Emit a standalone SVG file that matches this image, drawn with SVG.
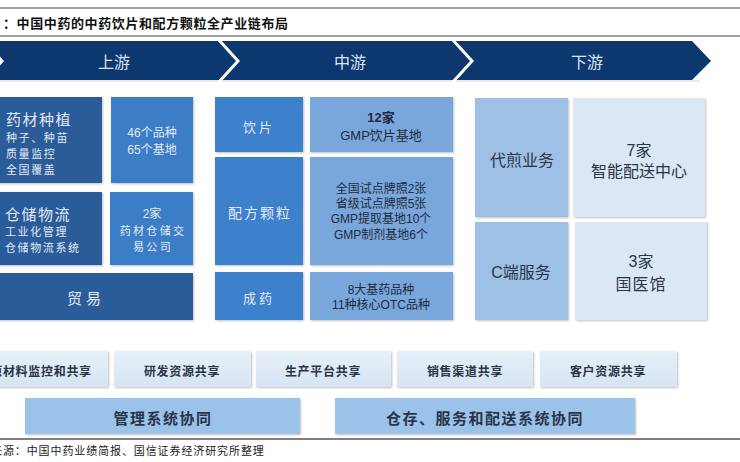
<svg xmlns="http://www.w3.org/2000/svg" width="740" height="462" viewBox="0 0 740 462">
<defs>
<filter id="sh" x="-5%" y="-5%" width="112%" height="115%">
<feDropShadow dx="1" dy="1" stdDeviation="0.8" flood-color="#000" flood-opacity="0.25"/>
</filter>
<linearGradient id="gl" x1="0" y1="0" x2="0" y2="1">
<stop offset="0" stop-color="#e6f0f9"/>
<stop offset="1" stop-color="#d6e4f3"/>
</linearGradient>
</defs>
<style>
text{font-family:"Liberation Sans","Noto Sans CJK SC",sans-serif;dominant-baseline:central;text-anchor:middle}
.cjk{font-family:"Noto Sans CJK SC",sans-serif}
.lt{fill:#e3eaf4}
.dk{fill:#1f2a3c}
.dk2{fill:#2a3448}
.b1{fill:#2b5b99}
.b2{fill:#3a7dc6}
.b3{fill:#3e80cc}
.b4{fill:#79a7dc}
.b5{fill:#9dc0e4}
.b6{fill:#dae7f4}
.b7{fill:url(#gl)}
.b8{fill:#9bc2e8}
.box{filter:url(#sh)}
.hd{font-size:16px;fill:#dde5f0}
.s11{font-size:11px;letter-spacing:1.6px;text-anchor:start}
.h15{font-size:15px;letter-spacing:1.5px;text-anchor:start}
.c11{font-size:11px;letter-spacing:2.3px}
.s12{font-size:12px}
.s13{font-size:13px}
.s16{font-size:16px}
</style>
<rect width="740" height="462" fill="#ffffff"/>
<!-- title rules -->
<line x1="0" y1="8" x2="740" y2="8" stroke="#444" stroke-width="1.2"/>
<line x1="0" y1="36" x2="740" y2="36" stroke="#444" stroke-width="1.2"/>
<text x="3" y="22" class="cjk" style="text-anchor:start;font-size:13px;font-weight:bold;letter-spacing:0.6px;fill:#111">：中国中药的中药饮片和配方颗粒全产业链布局</text>

<!-- banner -->
<g id="banner">
<polygon points="0,41 692,41 711,61 692,80 0,80" fill="#0c376f"/>
<line x1="0" y1="81" x2="700" y2="81" stroke="#c9d3e0" stroke-width="1"/>
<polyline points="-18,39 2,61 -18,83" fill="none" stroke="#ffffff" stroke-width="3"/>
<polyline points="218,39 238,61 218,83" fill="none" stroke="#ffffff" stroke-width="3"/>
<polyline points="452,39 472,61 452,83" fill="none" stroke="#ffffff" stroke-width="3"/>
<text x="114" y="61" class="hd cjk">上游</text>
<text x="350" y="61" class="hd cjk">中游</text>
<text x="587" y="61" class="hd cjk">下游</text>
</g>

<!-- upstream -->
<g id="n-zhongzhi">
<rect class="b1 box" x="-2" y="97" width="104" height="86"/>
<text x="6" y="118" class="lt cjk h15">药材种植</text>
<text x="6" y="137" class="lt cjk s11">种子、种苗</text>
<text x="6" y="153" class="lt cjk s11">质量监控</text>
<text x="6" y="169" class="lt cjk s11">全国覆盖</text>
</g>
<g id="n-46">
<rect class="b2 box" x="111" y="97" width="82" height="86"/>
<text x="152" y="133" class="lt s12">46个品种</text>
<text x="152" y="150" class="lt s12">65个基地</text>
</g>
<g id="n-cangchu">
<rect class="b1 box" x="-2" y="192" width="104" height="73"/>
<text x="5" y="213" class="lt cjk h15">仓储物流</text>
<text x="5" y="231" class="lt cjk s11">工业化管理</text>
<text x="5" y="247" class="lt cjk s11">仓储物流系统</text>
</g>
<g id="n-2jia">
<rect class="b2 box" x="110" y="192" width="83" height="73"/>
<text x="152" y="214" class="lt s12">2家</text>
<text x="153" y="230" class="lt cjk c11">药材仓储交</text>
<text x="153" y="246" class="lt cjk c11">易公司</text>
</g>
<g id="n-maoyi">
<rect class="b1 box" x="-2" y="273" width="195" height="47"/>
<text x="86" y="297" class="lt cjk" style="font-size:15px;letter-spacing:4px">贸易</text>
</g>

<!-- midstream -->
<g id="n-yinpian">
<rect class="b3 box" x="215" y="97" width="88" height="55"/>
<text x="259" y="126" class="lt cjk s13" style="letter-spacing:3px">饮片</text>
</g>
<g id="n-12jia">
<rect class="b4 box" x="310" y="97" width="143" height="55"/>
<text x="381" y="117" class="dk s13" style="font-weight:bold">12家</text>
<text x="381" y="135" class="dk s13">GMP饮片基地</text>
</g>
<g id="n-peifang">
<rect class="b3 box" x="215" y="157" width="88" height="108"/>
<text x="260" y="212" class="lt cjk" style="font-size:14px;letter-spacing:2px">配方颗粒</text>
</g>
<g id="n-paizhao">
<rect class="b4 box" x="310" y="157" width="143" height="108"/>
<text x="381" y="189" class="dk s12">全国试点牌照2张</text>
<text x="381" y="204" class="dk s12">省级试点牌照5张</text>
<text x="381" y="219" class="dk s12">GMP提取基地10个</text>
<text x="381" y="235" class="dk s12">GMP制剂基地6个</text>
</g>
<g id="n-chengyao">
<rect class="b3 box" x="215" y="272" width="88" height="48"/>
<text x="259" y="297" class="lt cjk s13" style="letter-spacing:3px">成药</text>
</g>
<g id="n-jiyao">
<rect class="b4 box" x="310" y="272" width="143" height="48"/>
<text x="381" y="290" class="dk s12">8大基药品种</text>
<text x="381" y="305" class="dk s12">11种核心OTC品种</text>
</g>

<!-- downstream -->
<g id="n-daijian">
<rect class="b5 box" x="475" y="98" width="93" height="119"/>
<text x="522" y="159" class="dk2 cjk s16">代煎业务</text>
</g>
<g id="n-7jia">
<rect class="b6 box" x="573" y="98" width="132" height="119"/>
<text x="639" y="150" class="dk2 s16">7家</text>
<text x="639" y="170" class="dk2 cjk s16">智能配送中心</text>
</g>
<g id="n-cduan">
<rect class="b5 box" x="475" y="222" width="93" height="98"/>
<text x="521" y="272" class="dk2 s16">C端服务</text>
</g>
<g id="n-3jia">
<rect class="b6 box" x="575" y="222" width="132" height="98"/>
<text x="641" y="261" class="dk2 s16">3家</text>
<text x="641" y="283" class="dk2 cjk s16" style="letter-spacing:1px">国医馆</text>
</g>

<!-- sharing row -->
<g id="n-share1">
<rect class="b7 box" x="-28" y="351" width="136" height="36"/>
<text x="41" y="370" class="dk2 cjk s12" style="font-weight:bold;letter-spacing:0.7px">原材料监控和共享</text>
</g>
<g id="n-share2">
<rect class="b7 box" x="114" y="351" width="137" height="36"/>
<text x="182" y="370" class="dk2 cjk s12" style="font-weight:bold;letter-spacing:0.7px">研发资源共享</text>
</g>
<g id="n-share3">
<rect class="b7 box" x="256" y="351" width="135" height="36"/>
<text x="323" y="370" class="dk2 cjk s12" style="font-weight:bold;letter-spacing:0.7px">生产平台共享</text>
</g>
<g id="n-share4">
<rect class="b7 box" x="397" y="351" width="136" height="36"/>
<text x="465" y="370" class="dk2 cjk s12" style="font-weight:bold;letter-spacing:0.7px">销售渠道共享</text>
</g>
<g id="n-share5">
<rect class="b7 box" x="540" y="351" width="137" height="36"/>
<text x="608" y="370" class="dk2 cjk s12" style="font-weight:bold;letter-spacing:0.7px">客户资源共享</text>
</g>

<!-- synergy row -->
<g id="n-guanli">
<rect class="b8 box" x="25" y="398" width="275" height="36"/>
<text x="163" y="417" class="dk2 cjk" style="font-size:15px;font-weight:bold;letter-spacing:1.5px">管理系统协同</text>
</g>
<g id="n-cangcun">
<rect class="b8 box" x="335" y="398" width="300" height="36"/>
<text x="485" y="417" class="dk2 cjk" style="font-size:15px;font-weight:bold;letter-spacing:1.5px">仓存、服务和配送系统协同</text>
</g>

<!-- footer -->
<line x1="0" y1="439" x2="740" y2="439" stroke="#555" stroke-width="1.5"/>
<text x="-9" y="450" class="cjk" style="text-anchor:start;font-size:11px;letter-spacing:0.9px;fill:#222">来源：中国中药业绩简报、国信证券经济研究所整理</text>
</svg>
